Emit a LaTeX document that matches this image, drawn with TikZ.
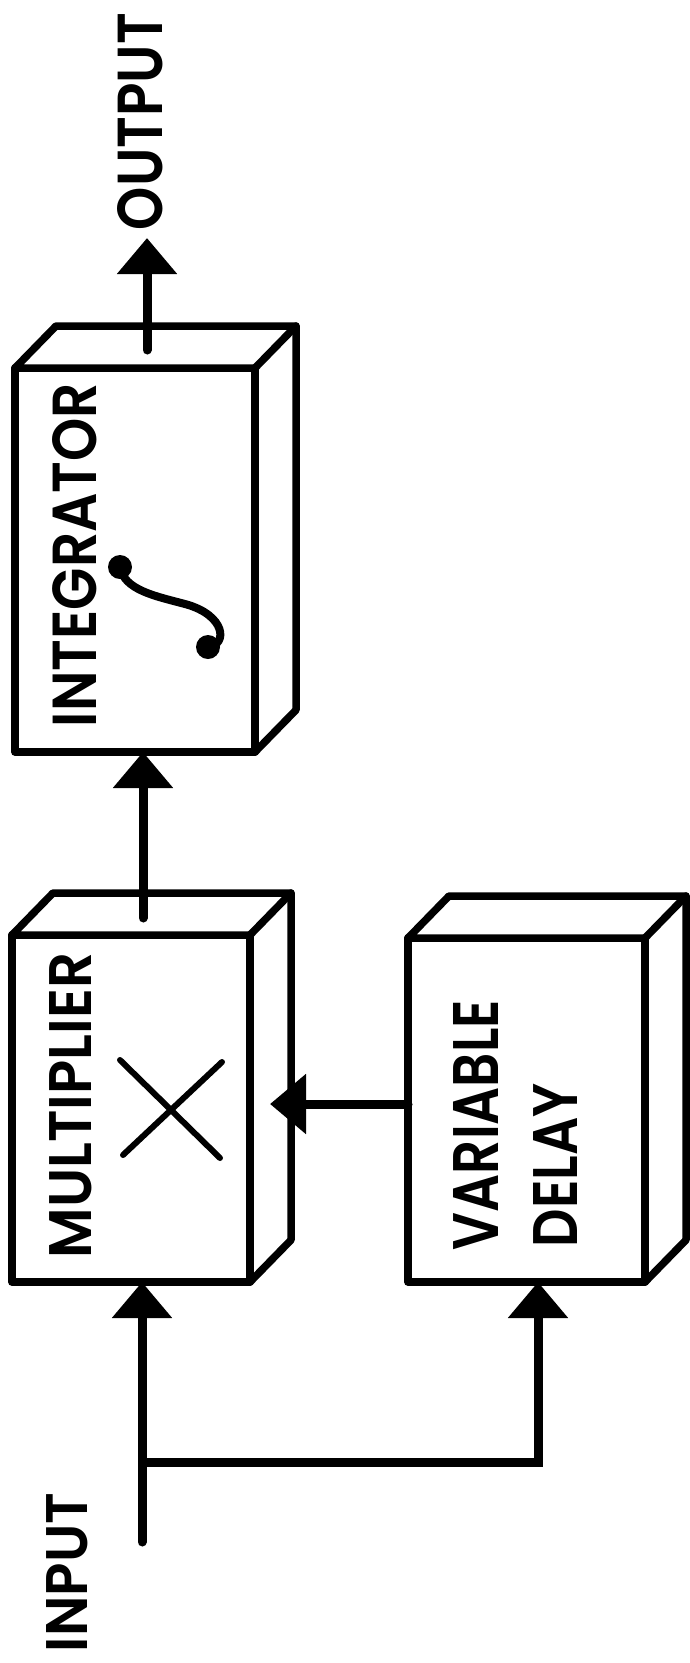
\documentclass[tikz,border=0pt]{standalone}
\usepackage{graphicx}
\usepackage{fontspec}
\newfontfamily\lbl{Poppins SemiBold}
\usetikzlibrary{arrows.meta,calc}
\tikzset{
  box/.style={draw, line width=7.5pt, fill=white, rectangle, inner sep=0pt, outer sep=0pt, line join=round},
  boxline/.style={line width=7.5pt, line join=round, line cap=round},
  conn/.style={line width=9pt, line cap=round, -{Triangle[width=58pt,length=36pt]}},
  lab/.style={inner sep=0pt, outer sep=0pt, rotate=90},
  symb/.style={line width=6pt, line cap=round},
}
\newcommand{\lbltext}[3]{\resizebox{#1}{#2}{\lbl #3}}
\begin{document}
\begin{tikzpicture}[x=1pt,y=-1pt]
\useasboundingbox (0,0) rectangle (690,1663);
\fill[white] (0,0) rectangle (690,1663);

% boxes (front faces)
\node[box, minimum width=240pt, minimum height=384pt] (integ) at (135,560) {};
\node[box, minimum width=238pt, minimum height=347pt] (mult) at (131,1108.5) {};
\node[box, minimum width=237pt, minimum height=344pt] (delay) at (526.5,1110) {};

% 3D top and side faces
\foreach \n in {integ,mult,delay} {
  \draw[boxline, fill=white] (\n.north west) -- ([shift={(41pt,42pt)}]\n.north west)
     -- ([shift={(41pt,42pt)}]\n.north east) -- ([shift={(41pt,42pt)}]\n.south east)
     -- (\n.south east) -- (\n.north east) -- cycle;
  \draw[boxline] (\n.north east) -- ([shift={(41pt,42pt)}]\n.north east);
}

% labels
\node[lab] (tint) at (75,555) {\lbltext{344pt}{44pt}{INTEGRATOR}};
\node[lab] (tmul) at (71,1105.5) {\lbltext{305pt}{42pt}{MULTIPLIER}};
\node[lab] (tvar) at (476,1125) {\lbltext{250pt}{45pt}{VARIABLE}};
\node[lab] (tdel) at (555,1165) {\lbltext{164pt}{44pt}{DELAY}};
\node[lab] (tout) at (140.5,121.5) {\lbltext{217pt}{45pt}{OUTPUT}};
\node[lab] (tin) at (67.5,1572.5) {\lbltext{159pt}{41pt}{INPUT}};

% multiplier cross
\draw[symb] (120,1060) -- (220,1158) (222,1062) -- (123,1155);
% integral sign
\draw[line width=8pt, line cap=round] (120,567) .. controls (124,590) and (155,596) .. (185,604)
   .. controls (226,615) and (228,645) .. (208,647);
\fill (120,567) circle[radius=12pt];
\fill (208,647) circle[radius=12pt];

% connectors
\coordinate (os) at ([xshift=12pt,yshift=18pt]integ.north);
\draw[conn, shorten >=8pt] (os) -- (os |- tout.west);

\coordinate (ms) at ([xshift=12pt,yshift=17pt]mult.north);
\draw[conn] (ms) -- (ms |- integ.south);

\coordinate (dw) at ([yshift=6pt]delay.west);
\draw[conn, shorten >=20pt] (dw) -- (dw -| mult.east);

\coordinate (inp) at (142,1542);
\coordinate (br) at (142,1462);
\draw[conn] (inp) -- (inp |- mult.south);
\draw[conn, line cap=butt] (br) -| ([xshift=11.5pt]delay.south);
\end{tikzpicture}
\end{document}
